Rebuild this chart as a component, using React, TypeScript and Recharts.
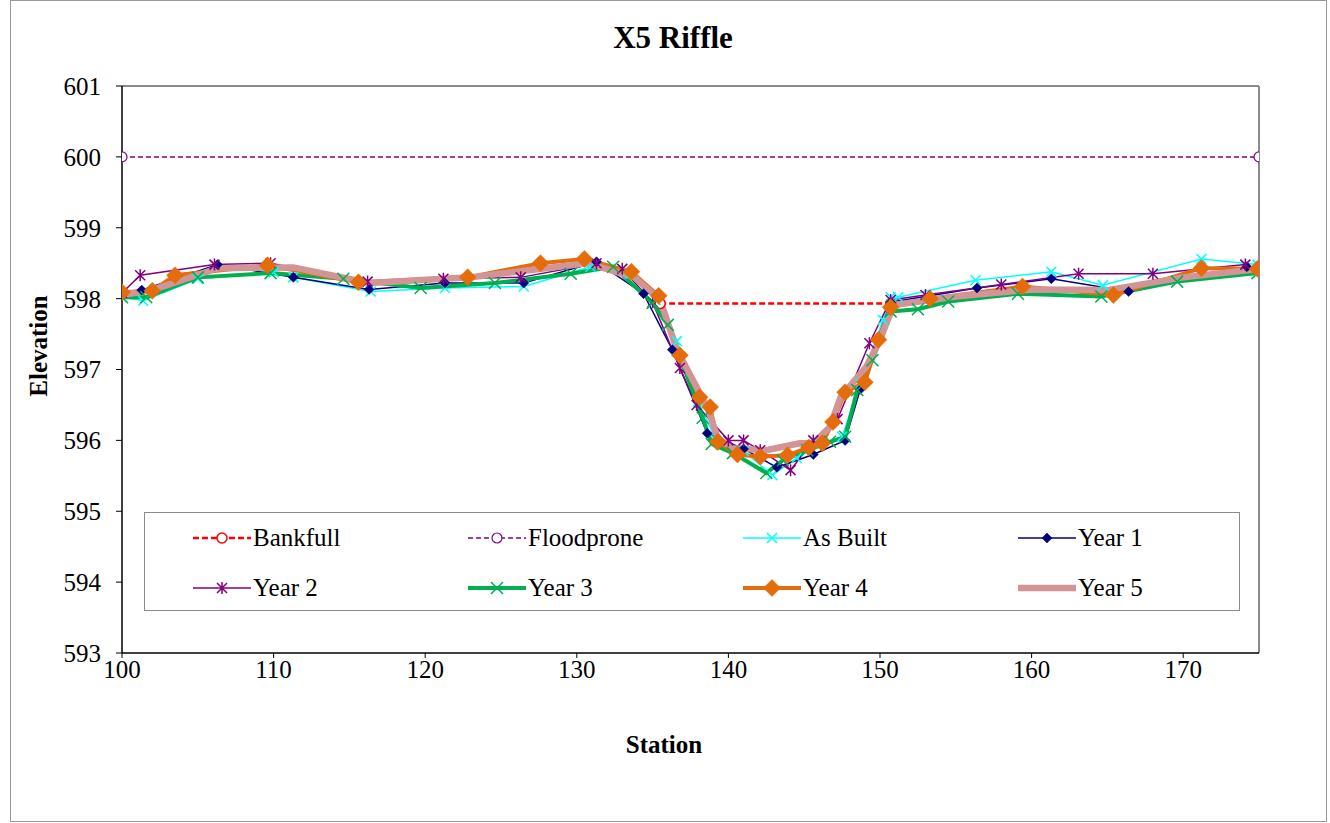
import React from 'react';
import { LineChart, Line, XAxis, YAxis, ReferenceLine, Legend } from 'recharts';

// ---------- data ----------
const xTicks = [100, 110, 120, 130, 140, 150, 160, 170];
const yTicks = [593, 594, 595, 596, 597, 598, 599, 600, 601];

const bankfullStation = [135.5, 150.7];
const bankfullElev = [597.93, 597.93];

const floodproneStation = [100, 175];
const floodproneElev = [600.0, 600.0];

const asBuiltStation = [100, 101.4, 105, 110, 111.3, 116.4, 121.3, 126.5, 130.9, 133.5, 135.2, 136.6, 138.0, 139.2, 141, 142.9, 144.5, 146, 147.5, 148.7, 150.2, 150.7, 151.2, 156.3, 161.3, 164.7, 171.2, 174.9];
const asBuiltElev = [598.02, 597.97, 598.28, 598.37, 598.3, 598.1, 598.15, 598.17, 598.45, 598.35, 597.98, 597.4, 596.55, 596.0, 595.85, 595.51, 595.75, 595.95, 596.05, 596.8, 597.7, 598.02, 598.02, 598.26, 598.38, 598.19, 598.56, 598.48];

const year1Station = [100, 101.3, 106.3, 111.3, 116.3, 121.3, 126.5, 131.3, 134.4, 136.3, 138.6, 141, 143.2, 145.6, 147.7, 148.7, 150.7, 156.4, 161.3, 166.4, 174.2];
const year1Elev = [598.05, 598.12, 598.48, 598.3, 598.13, 598.22, 598.22, 598.52, 598.07, 597.28, 596.1, 595.88, 595.62, 595.8, 596.0, 596.72, 597.95, 598.15, 598.28, 598.1, 598.45];

const year2Station = [100, 101.2, 106.1, 109.8, 116.2, 121.2, 126.3, 131.3, 133, 135, 136.8, 137.9, 140, 141, 142.1, 144.1, 145.6, 147.2, 149.3, 150.7, 153, 158, 163.1, 168, 174.1];
const year2Elev = [598.08, 598.33, 598.48, 598.5, 598.24, 598.28, 598.3, 598.5, 598.42, 597.95, 597.02, 596.5, 596.0, 596.0, 595.86, 595.58, 596.0, 596.3, 597.37, 597.98, 598.05, 598.2, 598.35, 598.35, 598.48];

const year3Station = [100, 101.6, 105, 109.8, 114.6, 119.7, 124.6, 129.6, 132.4, 135.0, 136.0, 138.3, 138.9, 140.3, 142.5, 143.6, 145.2, 146.7, 147.7, 148.5, 149.5, 150.7, 152.5, 154.5, 159.1, 164.6, 169.6, 174.9];
const year3Elev = [598.02, 598.02, 598.3, 598.36, 598.28, 598.15, 598.22, 598.35, 598.45, 597.94, 597.63, 596.32, 595.95, 595.82, 595.54, 595.72, 595.86, 595.98, 596.05, 596.71, 597.13, 597.82, 597.85, 597.96, 598.07, 598.03, 598.24, 598.36];

const year4Station = [100, 102, 103.5, 109.6, 115.6, 122.8, 127.6, 130.5, 133.6, 135.4, 136.8, 138.1, 138.8, 139.3, 140.6, 142.1, 143.9, 145.3, 146.2, 146.9, 147.7, 149.0, 149.9, 150.7, 153.3, 159.4, 165.4, 171.2, 174.9];
const year4Elev = [598.09, 598.11, 598.33, 598.47, 598.23, 598.3, 598.5, 598.56, 598.38, 598.04, 597.2, 596.61, 596.47, 595.98, 595.8, 595.77, 595.79, 595.9, 595.96, 596.26, 596.68, 596.82, 597.42, 597.88, 598.0, 598.17, 598.05, 598.43, 598.42];

const year5Station = [100, 102, 106.3, 111.3, 116.3, 123, 130.7, 133.8, 135.5, 136.6, 138.6, 139.3, 140.3, 142.5, 144.7, 145.6, 146.7, 147.4, 149.1, 150.0, 150.9, 155, 160, 165, 170, 175];
const year5Elev = [598.05, 598.12, 598.43, 598.44, 598.22, 598.3, 598.5, 598.3, 597.98, 597.28, 596.47, 596.03, 595.89, 595.86, 595.96, 595.96, 596.19, 596.61, 597.04, 597.42, 597.91, 598.03, 598.13, 598.12, 598.3, 598.42];

type Pt = { x: number; y: number };
const toPts = (s: number[], e: number[]): Pt[] => s.map((x, i) => ({ x, y: e[i] }));

// ---------- styles ----------
const FONT = '"Liberation Serif", "Times New Roman", serif';

type Kind = 'circle' | 'diamond' | 'x' | 'star' | 'none';

function shape(kind: Kind, cx: number, cy: number, color: string, size: number, sw: number) {
  switch (kind) {
    case 'circle':
      return <circle cx={cx} cy={cy} r={size} fill="#fff" stroke={color} strokeWidth={sw} />;
    case 'diamond':
      return <path d={`M${cx},${cy - size}L${cx + size},${cy}L${cx},${cy + size}L${cx - size},${cy}Z`} fill={color} stroke={color} strokeWidth={0.5} />;
    case 'x':
      return (
        <path d={`M${cx - size},${cy - size}L${cx + size},${cy + size}M${cx - size},${cy + size}L${cx + size},${cy - size}`} stroke={color} strokeWidth={sw} fill="none" />
      );
    case 'star':
      return (
        <path d={`M${cx - size},${cy - size}L${cx + size},${cy + size}M${cx - size},${cy + size}L${cx + size},${cy - size}M${cx},${cy - size * 1.2}L${cx},${cy + size * 1.2}`} stroke={color} strokeWidth={sw} fill="none" />
      );
    default:
      return null;
  }
}

const makeDot = (name: string, kind: Kind, color: string, size: number, sw: number) => (p: any) => {
  const { cx, cy, index } = p;
  const k = `${name}-${index}`;
  if (cx == null || cy == null || kind === 'none') return <g key={k} />;
  return <g key={k}>{shape(kind, cx, cy, color, size, sw)}</g>;
};

type Series = {
  name: string;
  data: Pt[];
  color: string;
  width: number;
  dash?: string;
  kind: Kind;
  size: number;
  msw: number;
};

const series: Series[] = [
  { name: 'Bankfull', data: toPts(bankfullStation, bankfullElev), color: '#FF0000', width: 2.5, dash: '6 3', kind: 'circle', size: 5, msw: 1.5 },
  { name: 'Floodprone', data: toPts(floodproneStation, floodproneElev), color: '#800080', width: 1.5, dash: '5 3', kind: 'circle', size: 5, msw: 1.2 },
  { name: 'As Built', data: toPts(asBuiltStation, asBuiltElev), color: '#00FFFF', width: 1.5, kind: 'x', size: 5, msw: 1.5 },
  { name: 'Year 1', data: toPts(year1Station, year1Elev), color: '#000080', width: 1.5, kind: 'diamond', size: 5, msw: 1 },
  { name: 'Year 2', data: toPts(year2Station, year2Elev), color: '#800080', width: 1.5, kind: 'star', size: 5, msw: 1.5 },
  { name: 'Year 3', data: toPts(year3Station, year3Elev), color: '#00B050', width: 4, kind: 'x', size: 6, msw: 1.5 },
  { name: 'Year 4', data: toPts(year4Station, year4Elev), color: '#E46C0A', width: 4, kind: 'diamond', size: 8.5, msw: 1 },
  { name: 'Year 5', data: toPts(year5Station, year5Elev), color: '#D29494', width: 6.5, kind: 'none', size: 0, msw: 0 },
];

// ---------- legend ----------
const LegendBox = () => (
  <div
    style={{
      position: 'relative',
      width: 1096,
      height: 99,
      boxSizing: 'border-box',
      border: '1.5px solid #8c8c8c',
      background: '#fff',
      fontFamily: FONT,
      fontSize: 25,
      color: '#000',
    }}
  >
    {series.map((s, i) => {
      const col = i % 4;
      const row = Math.floor(i / 4);
      const left = 48 + col * 275;
      const top = 25 + row * 50;
      return (
        <div key={s.name} style={{ position: 'absolute', left, top: top - 14, height: 28, display: 'flex', alignItems: 'center', whiteSpace: 'nowrap' }}>
          <svg width={58} height={28} style={{ display: 'block' }}>
            <line x1={0} y1={14} x2={58} y2={14} stroke={s.color} strokeWidth={s.width} strokeDasharray={s.dash} />
            {shape(s.kind, 29, 14, s.color, s.size, s.msw)}
          </svg>
          <span style={{ marginLeft: 2, lineHeight: '28px' }}>{s.name}</span>
        </div>
      );
    })}
  </div>
);

// ---------- chart ----------
export default function App() {
  return (
    <div style={{ position: 'absolute', left: 0, top: 0, width: 1330, height: 823, background: '#fff', fontFamily: FONT }}>
      <div style={{ position: 'absolute', left: 10, top: 0, width: 1317, height: 822, border: '1.5px solid #999', boxSizing: 'border-box' }} />
      <div style={{ position: 'absolute', left: 0, top: 0 }}>
        <LineChart width={1330} height={823} margin={{ top: 86, right: 71, bottom: 140, left: 62 }}>
          <XAxis
            type="number"
            dataKey="x"
            domain={[100, 175]}
            ticks={xTicks}
            allowDataOverflow
            axisLine={{ stroke: '#000', strokeWidth: 1.5 }}
            tickLine={{ stroke: '#000' }}
            tickSize={5}
            tickMargin={2}
            height={30}
            tick={{ fill: '#000', fontSize: 25, fontFamily: FONT }}
          />
          <YAxis
            type="number"
            dataKey="y"
            domain={[593, 601]}
            ticks={yTicks}
            allowDataOverflow
            width={60}
            axisLine={{ stroke: '#000', strokeWidth: 1.5 }}
            tickLine={{ stroke: '#000' }}
            tickSize={6}
            tickMargin={15}
            tick={{ fill: '#000', fontSize: 25, fontFamily: FONT }}
          />
          <ReferenceLine y={601} stroke="#8c8c8c" strokeWidth={2} />
          <ReferenceLine x={175} stroke="#8c8c8c" strokeWidth={2} />
          {series.map((s) => (
            <Line
              key={s.name}
              name={s.name}
              data={s.data}
              dataKey="y"
              type="linear"
              stroke={s.color}
              strokeWidth={s.width}
              strokeDasharray={s.dash}
              dot={makeDot(s.name, s.kind, s.color, s.size, s.msw)}
              activeDot={false}
              isAnimationActive={false}
              legendType="none"
            />
          ))}
          <Legend
            layout="horizontal"
            verticalAlign="middle"
            align="center"
            wrapperStyle={{ left: 144, top: 512, width: 1096, height: 99 }}
            content={() => <LegendBox />}
          />
        </LineChart>
      </div>
      <svg width={1330} height={823} style={{ position: 'absolute', left: 0, top: 0, pointerEvents: 'none' }}>
        <text x={673} y={37} textAnchor="middle" dominantBaseline="central" fontFamily={FONT} fontWeight="bold" fontSize={31}>
          X5 Riffle
        </text>
        <text x={664} y={744} textAnchor="middle" dominantBaseline="central" fontFamily={FONT} fontWeight="bold" fontSize={25}>
          Station
        </text>
        <text x={38} y={346} textAnchor="middle" dominantBaseline="central" fontFamily={FONT} fontWeight="bold" fontSize={25} transform="rotate(-90 38 346)">
          Elevation
        </text>
      </svg>
    </div>
  );
}
